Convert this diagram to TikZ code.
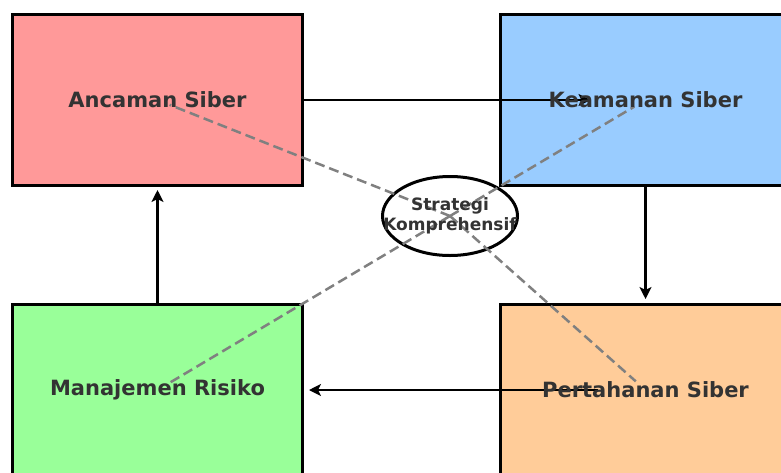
\documentclass[tikz,border=0pt]{standalone}
\usepackage{fontspec}
\setmainfont{DejaVu Sans}
\usetikzlibrary{shapes.geometric,arrows.meta}

\definecolor{cred}{HTML}{FF9999}
\definecolor{cblue}{HTML}{99CCFF}
\definecolor{cgreen}{HTML}{99FF99}
\definecolor{corange}{HTML}{FFCC99}
\definecolor{ctext}{HTML}{333333}
\tikzset{
  box/.style={draw=black,line width=3pt,minimum width=290pt,minimum height=171pt,inner sep=0pt},
  lbl/.style={text=ctext,font=\fontsize{21}{25}\selectfont\bfseries,inner sep=0pt},
  link/.style={gray,line width=2.5pt,dash pattern=on 10pt off 5pt},
  flow/.style={black,line width=2.5pt,-{Stealth[length=12pt,width=12pt,inset=3pt]}}
}

\begin{document}
\begin{tikzpicture}[x=1pt,y=-1pt]
    \useasboundingbox (0,0) rectangle (781,472);
    \clip (0,0) rectangle (781,472);
    % boxes
    \node[box,fill=cred]    (anc) at (157.5,100) {};
    \node[box,fill=cblue]   (kea) at (645.5,100) {};
    \node[box,fill=corange] (per) at (645.5,390) {};
    \node[box,fill=cgreen]  (man) at (157.5,390) {};
    \node[ellipse,draw=black,fill=white,line width=3pt,minimum width=135pt,minimum height=79pt,inner sep=0pt]
      (str) at (450,216) {};
    % links to the centre
    \foreach \b in {anc,kea,per,man} \draw[link,shorten >=13pt] (str.center) -- (\b.center);
    % cycle
    \draw[flow,shorten >=55pt] (anc.east) -- (kea.center);
    \draw[flow,shorten >=4pt] (kea.south) -- (per.north);
    \draw[flow,shorten <=48pt,shorten >=5pt] (per.center) -- (man.east);
    \draw[flow,shorten >=3pt] (man.north) -- (anc.south);
    % labels
    \node[lbl] (ancT) at (anc.center) {Ancaman Siber};
    \node[lbl] (keaT) at (kea.center) {Keamanan Siber};
    \node[lbl] (perT) at (per.center) {Pertahanan Siber};
    \node[lbl] (manT) at (man.center) {Manajemen Risiko};
    \node[lbl,font=\fontsize{17}{20}\selectfont\bfseries,align=center] (strT) at (str.center) {Strategi\\Komprehensif};
  \end{tikzpicture}
\end{document}
